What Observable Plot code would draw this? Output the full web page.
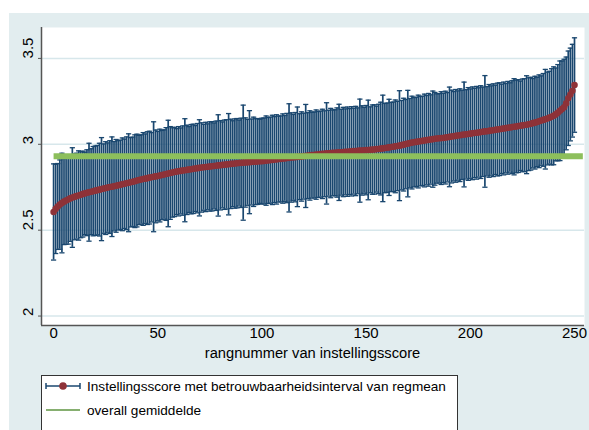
<!DOCTYPE html>
<html><head><meta charset="utf-8">
<script src="https://cdn.jsdelivr.net/npm/d3@7"></script>
<script src="https://cdn.jsdelivr.net/npm/@observablehq/plot@0.6"></script>
<style>
body{margin:0;background:#fff;font-family:"Liberation Sans",Arial,sans-serif;}
#page{position:relative;width:589px;height:430px;overflow:hidden;background:#fff}
#bg{position:absolute;left:9px;top:13px;right:0;bottom:0;background:#e2edef}
#chart{position:absolute;left:0;top:0}
#xtitle{position:absolute;left:41px;width:543px;top:344px;text-align:center;font-size:14.7px;color:#000;line-height:18px}
#legend{position:absolute;left:41px;top:375px;width:415px;height:80px;background:#fff;border:1px solid #333;}
.row{position:absolute;left:3px;height:20px;display:flex;align-items:center;font-size:13.6px;color:#000;white-space:nowrap}
.row svg{margin-right:6px}
</style></head>
<body>
<div id="page">
  <div id="bg"></div>
  <div id="chart"></div>
  <div id="xtitle"></div>
  <div id="legend"></div>
</div>
<script>
// ---- data ----
const estimates = [
2.606,2.624,2.638,2.649,2.658,2.666,2.673,2.679,2.685,2.690,
2.694,2.698,2.702,2.706,2.710,2.714,2.718,2.721,2.724,2.727,
2.730,2.733,2.736,2.739,2.742,2.745,2.748,2.751,2.753,2.756,
2.758,2.761,2.764,2.767,2.770,2.773,2.776,2.779,2.782,2.785,
2.789,2.792,2.795,2.798,2.800,2.803,2.806,2.808,2.811,2.813,
2.815,2.818,2.821,2.824,2.827,2.830,2.833,2.836,2.839,2.841,
2.843,2.845,2.847,2.849,2.851,2.853,2.855,2.857,2.859,2.861,
2.863,2.865,2.866,2.868,2.869,2.871,2.872,2.874,2.875,2.877,
2.878,2.880,2.881,2.883,2.884,2.886,2.887,2.888,2.890,2.891,
2.892,2.893,2.894,2.895,2.896,2.897,2.898,2.899,2.900,2.901,
2.902,2.903,2.905,2.906,2.908,2.909,2.911,2.912,2.914,2.915,
2.917,2.918,2.920,2.921,2.923,2.924,2.925,2.927,2.928,2.929,
2.931,2.932,2.934,2.935,2.937,2.938,2.940,2.941,2.943,2.944,
2.945,2.947,2.948,2.949,2.950,2.951,2.952,2.953,2.954,2.955,
2.956,2.957,2.958,2.959,2.960,2.961,2.962,2.963,2.964,2.965,
2.966,2.967,2.968,2.969,2.970,2.972,2.973,2.975,2.976,2.978,
2.980,2.982,2.984,2.986,2.988,2.990,2.992,2.995,2.998,3.001,
3.004,3.007,3.010,3.012,3.014,3.016,3.018,3.020,3.022,3.024,
3.026,3.028,3.030,3.032,3.034,3.035,3.036,3.037,3.039,3.041,
3.043,3.045,3.047,3.049,3.051,3.053,3.055,3.057,3.058,3.060,
3.062,3.064,3.066,3.067,3.069,3.071,3.073,3.075,3.076,3.078,
3.080,3.082,3.084,3.086,3.088,3.090,3.092,3.094,3.096,3.098,
3.100,3.102,3.104,3.106,3.108,3.110,3.112,3.114,3.117,3.120,
3.123,3.126,3.130,3.134,3.138,3.142,3.146,3.150,3.155,3.160,
3.166,3.174,3.184,3.195,3.205,3.215,3.238,3.268,3.290,3.312,3.345
];
const halfWidths = [
.28,.26,.25,.26,.29,.25,.255,.26,.25,.29,
.25,.25,.26,.25,.25,.24,.25,.285,.25,.26,
.26,.26,.27,.30,.26,.27,.26,.27,.29,.26,
.27,.26,.26,.27,.26,.27,.285,.26,.26,.27,
.27,.26,.26,.27,.26,.27,.27,.26,.32,.27,
.26,.27,.26,.26,.27,.31,.27,.26,.26,.25,
.26,.25,.26,.30,.26,.25,.26,.26,.25,.26,
.28,.26,.25,.26,.25,.26,.26,.25,.26,.295,
.26,.25,.26,.26,.295,.26,.25,.26,.26,.25,
.26,.335,.26,.25,.30,.25,.26,.25,.25,.245,
.25,.25,.26,.25,.25,.26,.25,.26,.25,.25,
.26,.25,.26,.315,.26,.25,.26,.29,.25,.26,
.25,.30,.25,.26,.25,.25,.26,.25,.25,.26,
.25,.295,.25,.26,.25,.25,.26,.28,.25,.26,
.25,.26,.25,.26,.25,.26,.25,.30,.26,.25,
.26,.29,.25,.26,.26,.25,.26,.27,.31,.26,
.26,.28,.26,.26,.27,.26,.32,.26,.27,.26,
.31,.26,.27,.26,.26,.27,.26,.26,.27,.26,
.27,.26,.28,.27,.26,.26,.27,.26,.27,.26,
.29,.27,.26,.27,.26,.27,.26,.305,.26,.27,
.26,.27,.26,.27,.26,.27,.26,.325,.26,.27,
.26,.27,.26,.27,.27,.26,.27,.26,.27,.26,
.27,.28,.27,.27,.26,.27,.27,.285,.27,.27,
.26,.27,.26,.27,.26,.27,.29,.27,.27,.28,
.285,.27,.28,.29,.28,.28,.27,.275,.27,.27,.275
];
const overallMean = 2.93;
const overallSpan = [0, 254];
const xTicks = [0, 50, 100, 150, 200, 250];
const yTicks = [2, 2.5, 3, 3.5];
const xDomain = [-5.8, 254.8];
const yDomain = [1.945, 3.68];
const xTitle = "rangnummer van instellingsscore";
const legendLabels = ["Instellingsscore met betrouwbaarheidsinterval van regmean", "overall gemiddelde"];

// ---- styles ----
const navy = "#1a476f", maroon = "#8e3238", green = "#8dbf5c", gridColor = "#d7e7eb", axisColor = "#555";

const rows = estimates.map((e, i) => ({rank: i, est: e, lo: e - halfWidths[i], hi: e + halfWidths[i]}));
const meanRows = overallSpan.map(x => ({x, y: overallMean}));

const capSymbol = {draw(ctx, size) { const r = Math.sqrt(size / Math.PI); ctx.moveTo(-r, 0); ctx.lineTo(r, 0); }};

const chart = Plot.plot({
  width: 589, height: 345,
  marginLeft: 41, marginRight: 5, marginTop: 27, marginBottom: 20,
  style: {background: "transparent", color: "#000", fontFamily: "'Liberation Sans', Arial, sans-serif", fontSize: "15px", overflow: "visible"},
  x: {domain: xDomain, label: null},
  y: {domain: yDomain, label: null},
  marks: [
    Plot.frame({fill: "white", stroke: "none"}),
    Plot.gridY(yTicks, {stroke: gridColor, strokeOpacity: 1, strokeWidth: 1.5}),
    Plot.axisY(yTicks, {tickSize: 3, tickFormat: () => "", stroke: axisColor}),
    Plot.text(yTicks, {y: d => d, frameAnchor: "left", dx: -13, rotate: -90, textAnchor: "start", lineAnchor: "middle", fontSize: 15, text: d => d3.format("")(d), fill: "#000"}),
    Plot.axisX(xTicks, {tickSize: 0, tickPadding: 2, fontSize: 15, fill: "#000"}),
    Plot.ruleX(rows, {x: "rank", y1: "lo", y2: "hi", stroke: navy, strokeWidth: 1.7}),
    Plot.dot(rows, {x: "rank", y: "hi", symbol: capSymbol, r: 2.6, stroke: navy, fill: "none", strokeWidth: 1.3}),
    Plot.dot(rows, {x: "rank", y: "lo", symbol: capSymbol, r: 2.6, stroke: navy, fill: "none", strokeWidth: 1.3}),
    Plot.dot(rows, {x: "rank", y: "est", r: 3.3, fill: maroon, stroke: "none"}),
    Plot.line(meanRows, {x: "x", y: "y", stroke: green, strokeWidth: 6, strokeLinecap: "butt"}),
    Plot.ruleX([xDomain[0]], {stroke: axisColor, strokeWidth: 1.5}),
    Plot.ruleY([yDomain[0]], {stroke: axisColor, strokeWidth: 1.5})
  ]
});
document.getElementById("chart").appendChild(chart);
document.getElementById("xtitle").textContent = xTitle;

const legend = document.getElementById("legend");
const sym1 = `<svg width="36" height="12"><line x1="1" y1="6" x2="35" y2="6" stroke="${navy}" stroke-width="1.5"/><line x1="1" y1="3" x2="1" y2="9" stroke="${navy}" stroke-width="1.5"/><line x1="35" y1="3" x2="35" y2="9" stroke="${navy}" stroke-width="1.5"/><circle cx="18" cy="6" r="3.8" fill="${maroon}"/></svg>`;
const sym2 = `<svg width="36" height="12"><line x1="1" y1="6" x2="35" y2="6" stroke="#5e9440" stroke-width="1.5"/></svg>`;
legend.innerHTML = `<div class="row" style="top:0px">${sym1}<span>${legendLabels[0]}</span></div>` +
  `<div class="row" style="top:24px">${sym2}<span>${legendLabels[1]}</span></div>`;
</script>
</body></html>
